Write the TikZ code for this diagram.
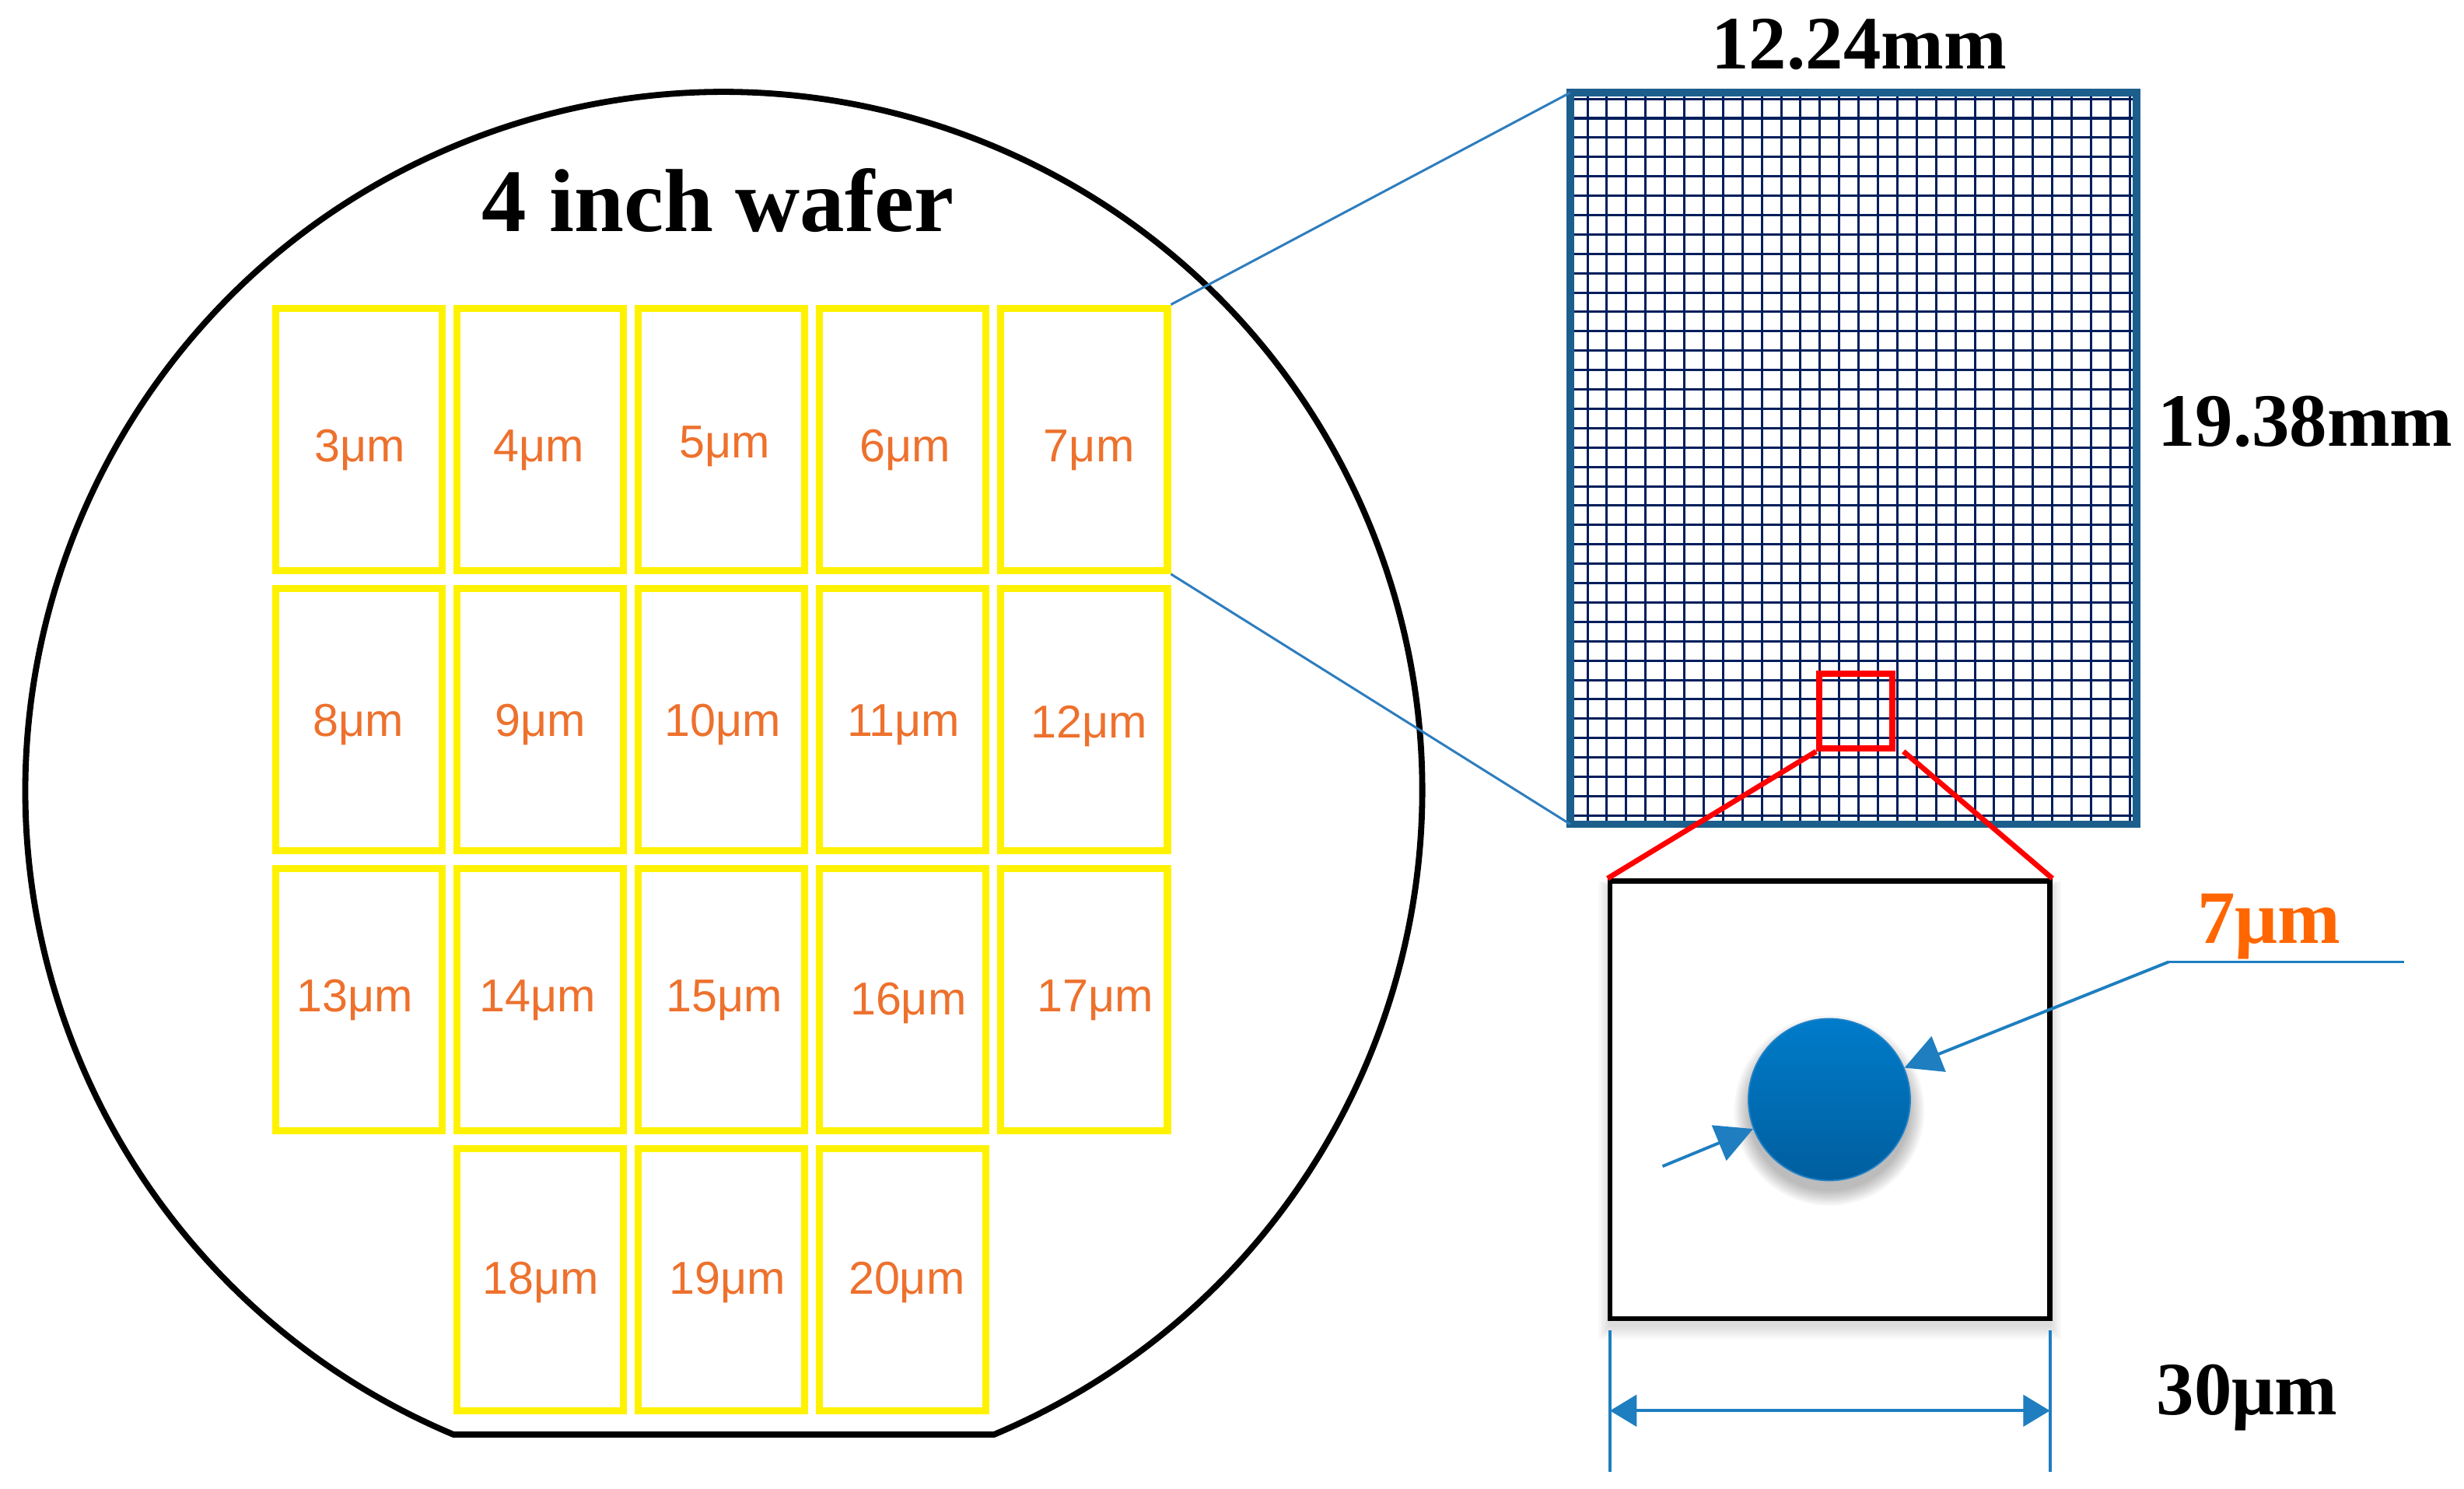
\documentclass[tikz,border=0pt]{standalone}
\usepackage{fontspec}
\setmainfont{Liberation Serif}
\newfontfamily\arialfont{Liberation Sans}
\usetikzlibrary{arrows.meta,calc}
\definecolor{boxorange}{RGB}{237,113,45}
\definecolor{orangeseven}{RGB}{255,102,0}
\definecolor{connblue}{RGB}{46,125,190}
\definecolor{gridnavy}{RGB}{0,30,92}
\definecolor{gridframe}{RGB}{28,94,140}
\definecolor{arrowblue}{RGB}{30,126,192}
\definecolor{dottop}{RGB}{0,124,202}
\definecolor{dotbot}{RGB}{0,94,158}
\definecolor{dotrim}{RGB}{34,130,200}
\begin{document}
\begin{tikzpicture}[x=0.02cm,y=-0.02cm,
  ybox/.style={draw=yellow, line width=2.56pt, minimum width=2.12cm, minimum height=3.34cm, inner sep=0pt},
  lbl/.style={font=\arialfont\fontsize{16.7pt}{19pt}\selectfont, text=boxorange, anchor=base, inner sep=0pt},
  titletext/.style={font=\bfseries\fontsize{32.4pt}{36pt}\selectfont, anchor=base, inner sep=0pt},
  bigtext/.style={font=\bfseries\fontsize{27.3pt}{30pt}\selectfont, anchor=base, inner sep=0pt},
  conn/.style={draw=connblue, line width=0.85pt},
  gridline/.style={draw=gridnavy, line width=0.85pt},
  gridedge/.style={draw=gridframe, line width=2.56pt},
  redline/.style={draw=red, line width=1.9pt},
  bluearrow/.style={draw=arrowblue, fill=arrowblue, line width=1.1pt, -{Triangle[length=0.47cm,width=0.48cm]}},
  blueline/.style={draw=arrowblue, line width=1.1pt},
  dimarrow/.style={draw=arrowblue, fill=arrowblue, line width=1.1pt, {Triangle[length=0.34cm,width=0.4cm]}-{Triangle[length=0.34cm,width=0.4cm]}}
]
\useasboundingbox (0,0) rectangle (1568,947);

% wafer outline with flat
\draw[line width=2.2pt, line join=round] (632.5,912.7) arc[start angle=67.24, end angle=-247.24, radius=444.4] -- cycle;

\node[titletext] (wtitle) at (457,147) {4 inch wafer};

% yellow die boxes: number / column / row / label x / label y (visual centre)
\foreach \n/\c/\r/\lx/\ly in {3/0/0/229/283,4/1/0/343/283,5/2/0/461/281,6/3/0/576/283,7/4/0/693/283,
                      8/0/1/228/458,9/1/1/344/458,10/2/1/460/458,11/3/1/575/458,12/4/1/693/459,
                      13/0/2/226/633,14/1/2/342/633,15/2/2/461/633,16/3/2/578/635,17/4/2/697/633,
                      18/1/3/344/813,19/2/3/463/813,20/3/3/577/813}{
  \node[ybox] (b\n) at ({228.3+115.4*\c},{279.5+178.2*\r}) {};
  \node[lbl] (t\n) at (\lx,{\ly+10.5}) {{\n}μm};
}

% grid chip
\coordinate (gTL) at (999.3,58.9);
\coordinate (gBR) at (1359.6,524.4);
\coordinate (gBL) at (999.3,524.4);
\foreach \k in {0,...,28}
  \draw[gridline] ({1010.2+12.324*\k},58.9) -- ({1010.2+12.324*\k},524.4);
\foreach \k in {0,...,37}
  \draw[gridline] (999.3,{62.9+12.324*\k}) -- (1359.6,{62.9+12.324*\k});
\draw[gridedge] (gTL) rectangle (gBR);

\node[bigtext] (wlab) at (1183,44) {12.24mm};
\node[bigtext] (hlab) at (1467,284) {19.38mm};

% connectors from die to chip
\draw[conn] (b7.north east) -- (gTL);
\draw[conn] (b7.south east) -- (gBL);

% red zoom square
\node[draw=red, line width=2.3pt, minimum width=0.93cm, minimum height=0.95cm, inner sep=0pt] (zoomsq) at (1181,452.3) {};

% soft shadow of the cell
\foreach \i in {1,...,6}
  \fill[black, opacity=0.025] ({1024.5-\i*1.2},{560.4+4-\i*0.6}) rectangle ({1304.5+\i*1.2},{839+4+\i*1.5});
\node[draw=black, fill=white, line width=1.8pt, minimum width=5.6cm, minimum height=5.57cm, inner sep=0pt] (cell) at (1164.5,699.7) {};

\coordinate (zr) at ($(zoomsq.south east)+(5,0)$);
\draw[redline] (zoomsq.south west) -- (cell.north west);
\draw[redline] (zr) -- (cell.north east);

% pixel dot with shadow
\coordinate (dotc) at (1164.1,699.6);
\foreach \i in {1,...,8}
  \fill[black, opacity=0.035] ($(dotc)+(0,7)$) circle[radius={50+\i*1.3}];
\node[circle, draw=dotrim, line width=0.5pt, top color=dottop, bottom color=dotbot, minimum size=2.06cm, inner sep=0pt] (dot) at (dotc) {};

% 7um callout
\coordinate (knee) at (1380,612);
\coordinate (tailR) at (1530,612);
\coordinate (tailL) at (1058,742);
\draw[blueline] (knee) -- (tailR);
\draw[bluearrow] (knee) -- (dot.23);
\draw[bluearrow] (tailL) -- (dot.201);
\node[bigtext, text=orangeseven] (dlab) at (1444,600) {7μm};

% dimension 30um
\coordinate (e1t) at (1024.5,846.5);
\coordinate (e1b) at (1024.5,936.5);
\coordinate (e2t) at (1304.5,846.5);
\coordinate (e2b) at (1304.5,936.5);
\coordinate (da) at (1024.5,897.5);
\coordinate (db) at (1304.5,897.5);
\draw[blueline] (e1t) -- (e1b);
\draw[blueline] (e2t) -- (e2b);
\draw[dimarrow] (da) -- (db);
\node[bigtext] (slab) at (1430,900) {30μm};
\end{tikzpicture}
\end{document}
